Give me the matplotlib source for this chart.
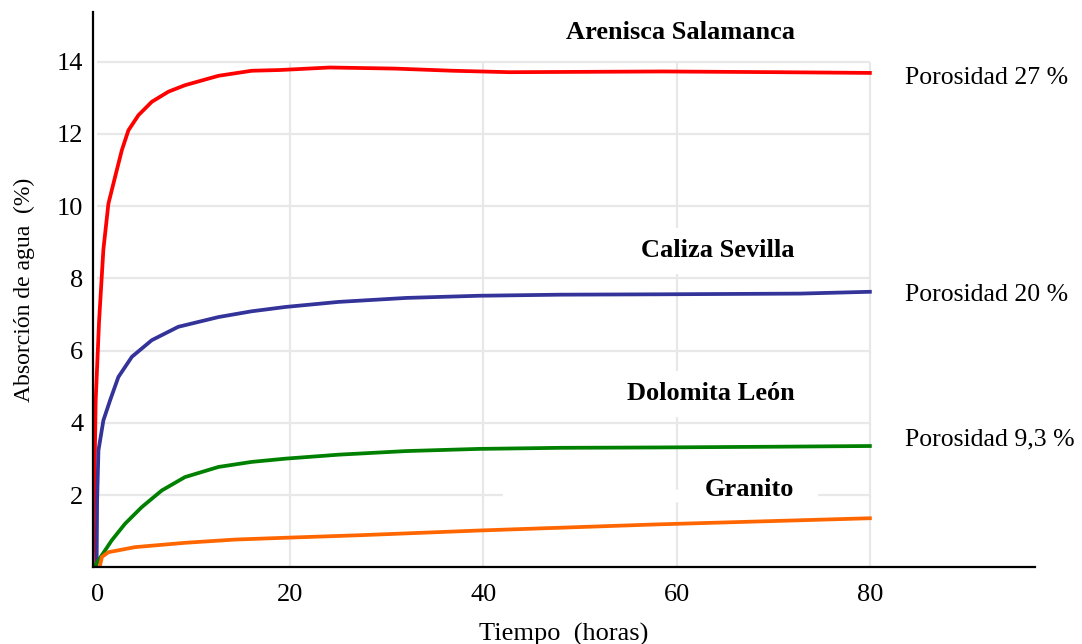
#!/usr/bin/env python
# coding: utf-8

import matplotlib.pyplot as plt
from matplotlib.patches import Rectangle

# tiempo (horas) / absorcion (%)
arenisca_x = [-0.45, -0.3, -0.15, 0.2, 0.65, 1.17, 1.86, 2.56, 3.24, 4.28, 5.66, 7.38, 9.1, 12.56, 16.0,
              18.9, 24.1, 30.8, 36.8, 42.7, 50.7, 58.6, 70.5, 80]
arenisca_y = [0.0, 2.0, 4.6, 6.8, 8.8, 10.07, 10.81, 11.55, 12.1, 12.52, 12.89, 13.17, 13.35, 13.61, 13.75,
              13.77, 13.84, 13.81, 13.75, 13.71, 13.72, 13.73, 13.71, 13.69]

caliza_x = [-0.2, -0.05, 0.0, 0.14, 0.65, 1.35, 2.2, 3.6, 5.66, 8.4, 12.56, 16.0, 19.5, 25, 32, 39.5,
            48, 58, 72.8, 80]
caliza_y = [0.0, 0.1, 1.86, 3.24, 4.07, 4.63, 5.27, 5.83, 6.29, 6.66, 6.93, 7.09, 7.21, 7.35, 7.46, 7.52,
            7.55, 7.56, 7.58, 7.63]

dolomita_x = [-0.2, 0.4, 1.52, 2.9, 4.63, 6.7, 9.1, 12.56, 16.0, 19.5, 25, 32, 39.5, 48, 58, 70, 80]
dolomita_y = [0.05, 0.3, 0.75, 1.21, 1.67, 2.13, 2.5, 2.78, 2.92, 3.01, 3.12, 3.22, 3.28, 3.31, 3.32, 3.34, 3.36]

granito_x = [0.3, 0.5, 1.17, 3.93, 9.1, 14.3, 19.5, 27.2, 39.5, 58, 80]
granito_y = [0.05, 0.29, 0.42, 0.56, 0.68, 0.77, 0.82, 0.89, 1.02, 1.19, 1.36]

nombres = ['Arenisca Salamanca', 'Caliza Sevilla', 'Dolomita León', 'Granito']
nombre_y = [14.8, 8.76, 4.8, 2.15]
porosidad = ['Porosidad 27 %', 'Porosidad 20 %', 'Porosidad 9,3 %']
porosidad_y = [13.55, 7.55, 3.55]

x_ticks = [0, 20, 40, 60, 80]
y_ticks = [2, 4, 6, 8, 10, 12, 14]


def draw():
    plt.rcParams['font.family'] = ['Liberation Serif', 'DejaVu Serif']
    fig = plt.figure(figsize=(10.82, 6.44), dpi=100)
    ax = fig.add_axes([0.086, 0.119, 0.8706, 0.862])

    # grid (solo hasta 80 h y 14 %)
    ax.hlines(y_ticks, 0, x_ticks[-1], color='#e8e8e8', lw=1.6, zorder=0)
    ax.vlines(x_ticks[1:], 0, y_ticks[-1], color='#e8e8e8', lw=1.6, zorder=0)
    ax.add_patch(Rectangle((42.0, 1.85), 32.5, 0.3, color='white', zorder=1))

    ax.plot(arenisca_x, arenisca_y, color='#ff0000', lw=2.7, zorder=2, solid_joinstyle='round')
    ax.plot(caliza_x, caliza_y, color='#333399', lw=2.7, zorder=2, solid_joinstyle='round')
    ax.plot(dolomita_x, dolomita_y, color='#008000', lw=2.7, zorder=2, solid_joinstyle='round')
    ax.plot(granito_x, granito_y, color='#ff6600', lw=2.7, zorder=2, solid_joinstyle='round')

    for name, yy in zip(nombres, nombre_y):
        ax.text(72.2, yy, name, ha='right', va='center', fontsize=19, fontweight='bold',
                zorder=3, bbox=dict(facecolor='white', edgecolor='none', pad=8))
    for name, yy in zip(porosidad, porosidad_y):
        ax.text(83.6, yy, name, ha='left', va='center', fontsize=18.5, zorder=3)

    ax.set_xlim(-0.42, 97.1)
    ax.set_ylim(0, 15.37)
    ax.set_xticks(x_ticks)
    ax.set_yticks(y_ticks)
    ax.tick_params(axis='x', length=0, pad=12, labelsize=19)
    ax.tick_params(axis='y', length=0, pad=7, labelsize=19)

    for s in ['top', 'right']:
        ax.spines[s].set_visible(False)
    ax.spines['left'].set_linewidth(1.6)
    ax.spines['bottom'].set_linewidth(1.6)

    ax.set_xlabel('Tiempo  (horas)', fontsize=19, labelpad=12)
    ax.set_ylabel('Absorción de agua  (%)', fontsize=17, labelpad=16)

    fig.savefig('out.png', dpi=100)
    plt.close(fig)


if __name__ == '__main__':
    draw()
